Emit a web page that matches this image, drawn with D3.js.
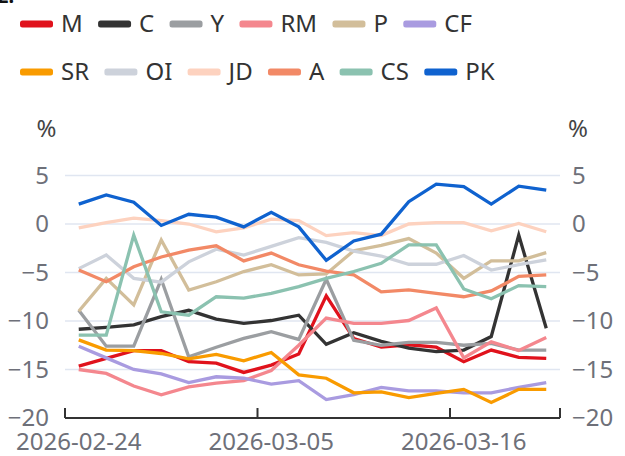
<!DOCTYPE html>
<html>
<head>
<meta charset="utf-8">
<script src="https://cdn.jsdelivr.net/npm/d3@7/dist/d3.min.js"></script>
<style>
  html, body { margin: 0; padding: 0; background: #fff; }
  svg { display: block; }
  text { font-family: "Noto Sans", "Open Sans", sans-serif; }
</style>
</head>
<body>
<svg id="chart" width="625" height="456"></svg>
<script>
// Trading days on the category axis
const dates = ["2026-02-24","2026-02-25","2026-02-26","2026-02-27","2026-03-02","2026-03-03",
  "2026-03-04","2026-03-05","2026-03-06","2026-03-09","2026-03-10","2026-03-11","2026-03-12",
  "2026-03-13","2026-03-16","2026-03-17","2026-03-18","2026-03-19"];
const tickLabels = ["2026-02-24", "2026-03-05", "2026-03-16"];
const yTicks = [5, 0, -5, -10, -15, -20];

// Series names and values (%)
const seriesNames = ["M","C","Y","RM","P","CF","SR","OI","JD","A","CS","PK"];
const M  = [-14.65,-13.85,-13.05,-13.05,-14.2,-14.35,-15.3,-14.55,-13.4,-7.4,-11.8,-12.7,-12.45,-12.7,-14.2,-13.0,-13.75,-13.85];
const C  = [-10.85,-10.65,-10.4,-9.55,-8.9,-9.8,-10.25,-9.95,-9.4,-12.4,-11.2,-12.1,-12.8,-13.15,-13.0,-11.6,-1.15,-10.75];
const Y  = [-8.9,-12.6,-12.6,-5.7,-13.7,-12.7,-11.8,-11.1,-11.9,-5.7,-12.0,-12.5,-12.2,-12.2,-12.5,-12.3,-13.0,-13.0];
const RM = [-15.0,-15.4,-16.7,-17.6,-16.8,-16.4,-16.15,-15.1,-12.5,-9.7,-10.25,-10.25,-9.95,-8.65,-13.8,-12.15,-13.05,-11.7];
const P  = [-9.0,-5.6,-8.35,-1.65,-6.8,-5.95,-4.9,-4.2,-5.25,-5.15,-2.75,-2.2,-1.5,-3.0,-5.6,-3.8,-3.8,-2.95];
const CF = [-12.6,-13.8,-15.0,-15.45,-16.35,-15.75,-15.9,-16.5,-16.15,-18.1,-17.6,-16.85,-17.2,-17.2,-17.4,-17.4,-16.85,-16.35];
const SR = [-11.95,-13.0,-13.05,-13.35,-13.9,-13.45,-14.1,-13.25,-15.55,-15.9,-17.4,-17.3,-17.9,-17.45,-17.05,-18.4,-17.05,-17.05];
const OI = [-4.6,-3.2,-5.6,-6.0,-3.9,-2.6,-3.2,-2.3,-1.4,-1.9,-2.8,-3.3,-4.15,-4.15,-3.25,-4.75,-4.2,-3.7];
const JD = [-0.4,0.15,0.6,0.35,0.0,-0.8,-0.4,0.5,0.35,-1.2,-0.9,-1.2,0.0,0.15,0.15,-0.7,0.05,-0.8];
const A  = [-4.75,-5.95,-4.4,-3.4,-2.7,-2.25,-3.8,-3.0,-4.2,-4.85,-5.25,-7.0,-6.8,-7.15,-7.5,-6.9,-5.4,-5.25];
const CS = [-11.45,-11.45,-1.15,-9.05,-9.4,-7.5,-7.65,-7.15,-6.45,-5.6,-4.9,-4.05,-2.15,-2.15,-6.7,-7.7,-6.35,-6.45];
const PK = [2.05,3.0,2.25,-0.15,1.0,0.7,-0.3,1.2,-0.3,-3.75,-1.75,-1.05,2.3,4.1,3.85,2.05,3.9,3.5];
const seriesValues = [M, C, Y, RM, P, CF, SR, OI, JD, A, CS, PK];
const seriesColors = ["#e0121c","#333333","#9b9ea1","#f4878e","#d2be9a","#a99be0",
  "#f99b00","#cdd2db","#fdd2bf","#f28966","#8bc2b0","#0f62cf"];

const svg = d3.select("#chart");
const plotLeft = 65, plotRight = 560, plotTop = 175.5, plotBottom = 418;

const x = d3.scaleBand().domain(dates).range([plotLeft, plotRight]).padding(0);
const y = d3.scaleLinear().domain([-20, 5]).range([plotBottom, plotTop]);
const cx = d => x(d) + x.bandwidth() / 2;

// Fragment of the heading above the chart
svg.append("text").attr("x", -3).attr("y", 3)
  .attr("font-size", 20).attr("font-weight", "bold").attr("fill", "#111").text("2.");

// Horizontal grid lines
svg.append("g").selectAll("line").data(yTicks.filter(v => v !== -20)).join("line")
  .attr("x1", plotLeft).attr("x2", plotRight)
  .attr("y1", d => y(d)).attr("y2", d => y(d))
  .attr("stroke", "#e0e6f1").attr("stroke-width", 1.5);

// Left and right value labels
const yAxisL = d3.axisLeft(y).tickValues(yTicks).tickSize(0).tickPadding(16);
const gl = svg.append("g").attr("transform", `translate(${plotLeft},0)`).call(yAxisL);
const yAxisR = d3.axisRight(y).tickValues(yTicks).tickSize(0).tickPadding(12);
const gr = svg.append("g").attr("transform", `translate(${plotRight},0)`).call(yAxisR);
[gl, gr].forEach(g => {
  g.select(".domain").remove();
  g.selectAll("text").attr("font-size", 24).attr("fill", "#6e7079")
    .attr("font-family", "'Noto Sans', sans-serif");
});

svg.append("text").attr("x", 46.5).attr("y", 137).attr("text-anchor", "middle")
  .attr("font-size", 24).attr("fill", "#444").text("%");
svg.append("text").attr("x", 578).attr("y", 137).attr("text-anchor", "middle")
  .attr("font-size", 24).attr("fill", "#444").text("%");

// Category axis
const xAxis = d3.axisBottom(x).tickValues(tickLabels).tickSize(0).tickPadding(15);
const gx = svg.append("g").attr("transform", `translate(0,${plotBottom})`).call(xAxis);
gx.select(".domain").remove();
gx.selectAll(".tick").attr("transform", d => `translate(${cx(d)},0)`);
gx.selectAll("text").attr("font-size", 24).attr("fill", "#6e7079")
  .attr("font-family", "'Noto Sans', sans-serif");

svg.append("line").attr("x1", plotLeft).attr("x2", plotRight).attr("y1", plotBottom).attr("y2", plotBottom)
  .attr("stroke", "#333").attr("stroke-width", 2);
const tickPos = tickLabels.map(d => x(d)).concat([plotRight]);
svg.append("g").selectAll("line").data(tickPos).join("line")
  .attr("x1", d => d).attr("x2", d => d)
  .attr("y1", plotBottom).attr("y2", plotBottom - 10)
  .attr("stroke", "#333").attr("stroke-width", 2);

// Series lines
const line = d3.line().x((v, i) => cx(dates[i])).y(v => y(v));
svg.append("g").selectAll("path").data(seriesValues).join("path")
  .attr("d", d => line(d))
  .attr("fill", "none")
  .attr("stroke", (d, i) => seriesColors[i])
  .attr("stroke-width", 3.3)
  .attr("stroke-linejoin", "miter")
  .attr("stroke-linecap", "butt");

// Legend: two rows of six
const legend = svg.append("g");
const rows = [seriesNames.slice(0, 6), seriesNames.slice(6)];
rows.forEach((names, r) => {
  let xpos = 20;
  const yy = r === 0 ? 24 : 72;
  names.forEach(name => {
    const idx = seriesNames.indexOf(name);
    legend.append("rect").attr("x", xpos).attr("y", yy - 3.5).attr("width", 33).attr("height", 7)
      .attr("rx", 2.5).attr("fill", seriesColors[idx]);
    const t = legend.append("text").attr("x", xpos + 41).attr("y", yy)
      .attr("dy", "0.35em").attr("font-size", 24).attr("fill", "#333").text(name);
    xpos += 41 + t.node().getComputedTextLength() + 15.3;
  });
});
</script>
</body>
</html>
